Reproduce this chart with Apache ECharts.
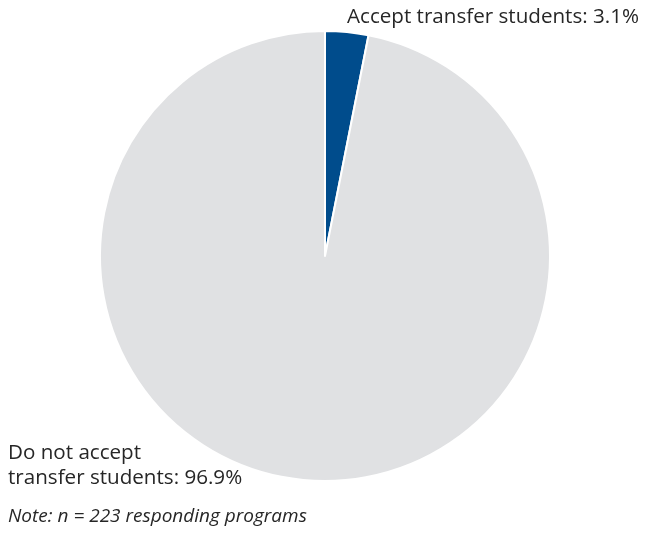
<!DOCTYPE html>
<html>
<head>
<meta charset="utf-8">
<script src="https://cdn.jsdelivr.net/npm/echarts@6/dist/echarts.min.js"></script>
<style>
  html, body { margin: 0; padding: 0; background: #fff; }
  #chart { width: 645px; height: 536px; }
</style>
</head>
<body>
<div id="chart"></div>
<script>
// Share of responding programs that accept transfer students
const categories = ['Accept transfer students', 'Do not accept\ntransfer students'];
const shares = [3.1, 96.9];
const sliceColors = ['#004c8c', '#e0e1e3'];
const noteText = 'Note: n = 223 responding programs';

// Where each slice's label sits on the canvas
const labelSpots = [
  { x: 347, y: 17, align: 'left', verticalAlign: 'middle' },
  { x: 8, y: 466, align: 'left', verticalAlign: 'middle' }
];

const fontStack = '"Open Sans", "Noto Sans", sans-serif';

const chart = echarts.init(document.getElementById('chart'));
chart.setOption({
  animation: false,
  textStyle: { fontFamily: fontStack },
  graphic: [{
    type: 'text',
    left: 8,
    top: 507,
    style: {
      text: noteText,
      fontSize: 19,
      fontStyle: 'italic',
      fontFamily: fontStack,
      fill: '#262626'
    }
  }],
  series: [{
    type: 'pie',
    center: [325, 256],
    radius: [0, 225],
    startAngle: 90,
    clockwise: true,
    itemStyle: { borderColor: '#fff', borderWidth: 2 },
    label: {
      show: true,
      position: 'outside',
      fontSize: 20.6,
      lineHeight: 25,
      color: '#262626',
      overflow: 'none',
      width: 400,
      formatter: p => p.name + ': ' + p.value.toFixed(1) + '%'
    },
    labelLine: { show: false },
    labelLayout: p => labelSpots[p.dataIndex],
    emphasis: { disabled: true },
    data: categories.map((name, i) => ({
      name: name,
      value: shares[i],
      itemStyle: { color: sliceColors[i] }
    }))
  }]
});
</script>
</body>
</html>
